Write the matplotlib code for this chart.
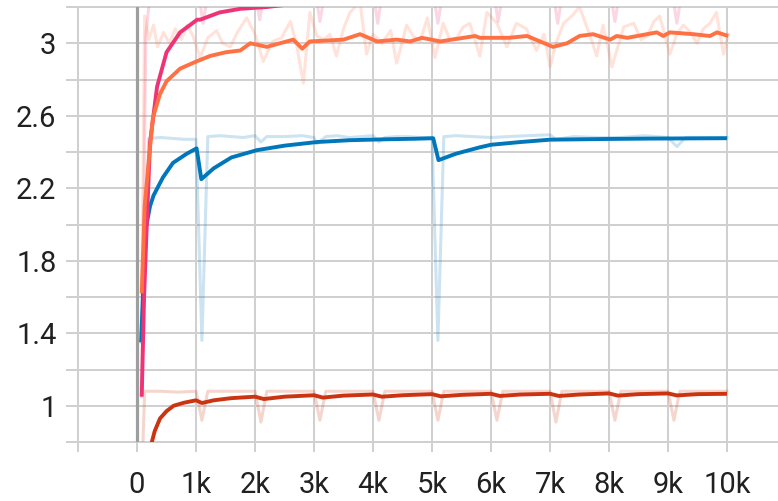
import matplotlib
matplotlib.use("Agg")
import matplotlib.pyplot as plt
import numpy as np

# smoothed curves (step, value)
blue_steps = [70, 110, 150, 220, 280, 440, 610, 840, 1010, 1090, 1300, 1600, 2030, 2500, 3050,
              3600, 4200, 4700, 5020, 5110, 5400, 5800, 6000, 6500, 7000, 7500, 8000, 8700, 9300, 10000]
blue_vals = [1.35, 1.7, 1.98, 2.1, 2.16, 2.26, 2.34, 2.39, 2.42, 2.25, 2.31, 2.37, 2.41, 2.435, 2.455,
             2.465, 2.47, 2.473, 2.476, 2.355, 2.39, 2.425, 2.44, 2.455, 2.468, 2.47, 2.472, 2.474, 2.475, 2.476]

orange_steps = [80, 130, 190, 270, 390, 500, 730, 1010, 1240, 1500, 1750, 1920, 2200, 2650, 2800,
                2930, 3500, 3780, 4070, 4400, 4630, 4830, 5140, 5730, 5810, 6300, 6610, 7050, 7290,
                7500, 7730, 8020, 8130, 8310, 8810, 8920, 9030, 9430, 9710, 9830, 10020]
orange_vals = [1.62, 2.1, 2.32, 2.59, 2.72, 2.79, 2.86, 2.90, 2.93, 2.95, 2.96, 3.0, 2.98, 3.02, 2.97,
               3.01, 3.02, 3.05, 3.01, 3.02, 3.01, 3.03, 3.01, 3.04, 3.03, 3.03, 3.04, 2.98, 3.00,
               3.04, 3.05, 3.02, 3.04, 3.03, 3.06, 3.04, 3.06, 3.05, 3.04, 3.06, 3.04]

pink_steps = [80, 120, 160, 220, 340, 500, 730, 1020, 1070, 1400, 1750, 2200, 3000, 5000, 10000]
pink_vals = [1.05, 1.6, 1.95, 2.45, 2.76, 2.95, 3.06, 3.13, 3.13, 3.17, 3.19, 3.2, 3.23, 3.27, 3.3]

red_steps = [220, 300, 390, 500, 620, 800, 1000, 1100, 1300, 1600, 2000, 2150, 2500, 3000, 3150,
             3500, 4000, 4150, 4500, 5000, 5150, 5500, 6000, 6150, 6500, 7000, 7150, 7500, 8000,
             8150, 8500, 9000, 9150, 9500, 10000]
red_vals = [0.76, 0.86, 0.93, 0.97, 1.0, 1.017, 1.03, 1.015, 1.03, 1.042, 1.05, 1.037, 1.05, 1.058, 1.045,
            1.056, 1.062, 1.05, 1.058, 1.064, 1.052, 1.06, 1.066, 1.054, 1.062, 1.066, 1.054, 1.062, 1.068,
            1.056, 1.064, 1.068, 1.057, 1.064, 1.066]

# raw curves (step, value)
blue_raw_steps = [70, 200, 400, 600, 800, 1000, 1100, 1200, 1400, 1600, 1800, 2000, 2100, 2200, 2500,
                  2800, 3000, 3050, 3200, 3400, 3600, 3800, 4000, 4100, 4200, 4400, 4600, 4800, 5000,
                  5100, 5200, 5400, 5700, 6000, 6300, 6600, 7000, 7100, 7400, 7800, 8200, 8600, 9000,
                  9150, 9300, 9600, 10000]
blue_raw_vals = [1.35, 2.475, 2.48, 2.475, 2.47, 2.47, 1.36, 2.485, 2.49, 2.485, 2.48, 2.49, 2.455, 2.485, 2.485,
                 2.49, 2.48, 2.445, 2.485, 2.49, 2.48, 2.485, 2.49, 2.455, 2.48, 2.485, 2.485, 2.48, 2.48,
                 1.36, 2.485, 2.49, 2.485, 2.48, 2.485, 2.49, 2.495, 2.47, 2.485, 2.48, 2.48, 2.49, 2.48,
                 2.43, 2.48, 2.48, 2.48]

orange_raw_steps = [80, 130, 200, 280, 350, 450, 550, 650, 750, 850, 950, 1070, 1200, 1350, 1450, 1580,
                    1700, 1860, 2000, 2140, 2300, 2450, 2600, 2700, 2820, 2930, 3050, 3170, 3270, 3380,
                    3500, 3610, 3780, 3890, 4000, 4150, 4300, 4400, 4570, 4680, 4800, 4920, 5050, 5190,
                    5300, 5420, 5530, 5640, 5810, 5930, 6100, 6270, 6430, 6600, 6770, 6900, 7000, 7100,
                    7230, 7370, 7500, 7680, 7790, 7900, 8050, 8250, 8420, 8540, 8650, 8760, 8860, 9030,
                    9150, 9260, 9380, 9490, 9600, 9710, 9820, 9940, 10020]
orange_raw_vals = [1.62, 3.15, 3.02, 3.10, 2.98, 3.06, 3.00, 3.08, 3.02, 3.10, 3.04, 2.92, 3.03, 3.07, 3.00, 2.98,
                   3.06, 3.14, 3.05, 2.90, 3.01, 3.03, 3.12, 3.00, 2.78, 3.17, 3.04, 3.02, 3.05, 2.93,
                   3.08, 3.17, 3.23, 2.94, 3.05, 3.00, 3.07, 2.89, 3.10, 3.04, 3.01, 3.14, 2.92, 3.11,
                   3.02, 3.03, 3.09, 3.11, 2.93, 3.17, 3.11, 2.98, 3.11, 3.08, 2.96, 3.05, 2.87, 3.00,
                   3.11, 3.15, 3.20, 3.04, 2.93, 3.10, 2.87, 3.09, 3.11, 3.02, 3.04, 3.12, 3.15, 2.94,
                   3.05, 3.10, 3.06, 3.00, 3.08, 3.11, 3.17, 2.94, 3.05]

pink_raw_steps = [80, 150, 250, 500, 800, 1000, 1120, 1250, 1600, 1950, 2080, 2200, 2600, 2980, 3100,
                  3230, 3600, 3960, 4080, 4200, 4600, 4980, 5100, 5230, 5600, 6000, 6120, 6250, 6600,
                  7010, 7130, 7260, 7600, 7980, 8100, 8230, 8600, 9030, 9150, 9280, 9600, 10000]
pink_raw_vals = [1.05, 3.05, 3.35, 3.36, 3.38, 3.37, 3.11, 3.38, 3.36, 3.38, 3.13, 3.37, 3.36, 3.38, 3.12,
                 3.37, 3.36, 3.38, 3.11, 3.37, 3.38, 3.37, 3.11, 3.38, 3.36, 3.38, 3.12, 3.37, 3.36,
                 3.38, 3.11, 3.37, 3.38, 3.37, 3.12, 3.38, 3.36, 3.37, 3.11, 3.38, 3.36, 3.37]

red_raw_steps = [80, 130, 400, 700, 1000, 1100, 1200, 1600, 2000, 2100, 2200, 2600, 3000, 3100, 3200,
                 3600, 4000, 4100, 4200, 4600, 5000, 5100, 5200, 5600, 6000, 6100, 6200, 6600, 7000,
                 7100, 7200, 7600, 8000, 8100, 8200, 8600, 9000, 9100, 9200, 9600, 10000]
red_raw_vals = [0.6, 1.08, 1.08, 1.075, 1.08, 0.92, 1.08, 1.08, 1.08, 0.91, 1.08, 1.08, 1.08, 0.92, 1.08,
                1.08, 1.08, 0.92, 1.08, 1.08, 1.08, 0.92, 1.08, 1.08, 1.08, 0.92, 1.08, 1.08, 1.08,
                0.91, 1.08, 1.08, 1.08, 0.92, 1.08, 1.08, 1.08, 0.92, 1.08, 1.08, 1.08]

x_ticks = np.arange(-1000, 10001, 1000)
x_labels = [""] + ["0"] + [f"{k}k" for k in range(1, 11)]
y_ticks = np.round(np.arange(0.8, 3.21, 0.2), 1)
y_labels = ["", "1", "", "1.4", "", "1.8", "", "2.2", "", "2.6", "", "3", ""]

BLUE, ORANGE, PINK, RED = "#0077bb", "#ff7043", "#ee3377", "#cc3311"
GRID = "#cfcfcf"

plt.rcParams["font.family"] = ["Roboto", "DejaVu Sans"]

fig = plt.figure(figsize=(7.78, 5.01), dpi=100)
ax = fig.add_axes([78 / 778, 59 / 501, 700 / 778, 435 / 501])

raw_kw = dict(lw=2.2, alpha=0.2, solid_joinstyle="round", zorder=2)
ax.plot(pink_raw_steps, pink_raw_vals, color=PINK, **raw_kw)
ax.plot(orange_raw_steps, orange_raw_vals, color=ORANGE, **raw_kw)
ax.plot(blue_raw_steps, blue_raw_vals, color=BLUE, **raw_kw)
ax.plot(red_raw_steps, red_raw_vals, color=RED, **raw_kw)

sm_kw = dict(lw=2.8, solid_joinstyle="round", solid_capstyle="butt", zorder=4)
ax.plot(blue_steps, blue_vals, color=BLUE, **sm_kw)
ax.plot(red_steps, red_vals, color=RED, **sm_kw)
ax.plot(pink_steps, pink_vals, color=PINK, **sm_kw)
ax.plot(orange_steps, orange_vals, color=ORANGE, **sm_kw)

ax.axvline(0, color="#9e9e9e", lw=2.3, zorder=1.5)

ax.set_xlim(-1000, 10864)
ax.set_ylim(0.8, 3.2)
ax.set_xticks(x_ticks)
ax.set_xticklabels(x_labels)
ax.set_yticks(y_ticks)
ax.set_yticklabels(y_labels)
for s in ax.spines.values():
    s.set_visible(False)
ax.grid(True, color=GRID, lw=1.4, zorder=1)
ax.set_axisbelow(True)
for gl in ax.get_xgridlines() + ax.get_ygridlines():
    gl.set_clip_on(False)

ax.tick_params(axis="x", length=7, width=1.4, color=GRID, pad=14, labelsize=21, labelcolor="#212121")
ax.tick_params(axis="y", length=8.5, width=1.4, color=GRID, pad=7, labelsize=21, labelcolor="#212121")

fig.savefig("out.png", dpi=100)
